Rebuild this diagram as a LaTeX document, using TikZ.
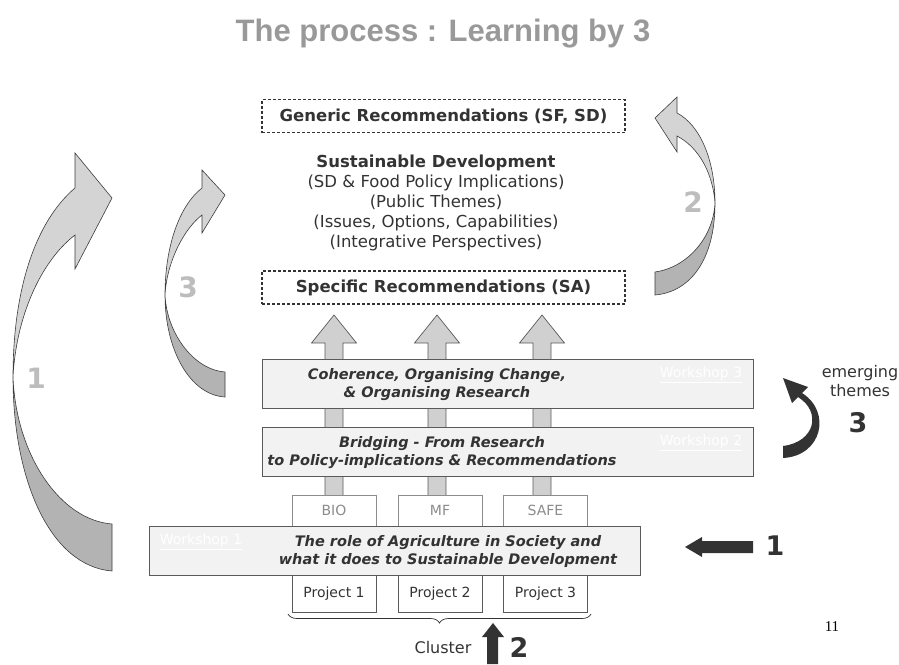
\documentclass[tikz,border=0pt]{standalone}
\usepackage{fontspec}
\setmainfont{DejaVu Sans}
\newfontfamily\titlefont{Liberation Sans}
\newfontfamily\seriffont{Liberation Serif}
\usetikzlibrary{decorations.pathreplacing}
\definecolor{txt}{HTML}{333333}
\definecolor{ttl}{HTML}{999999}
\definecolor{wsfill}{HTML}{F2F2F2}
\definecolor{wsdraw}{HTML}{5A5A5A}
\definecolor{arrlight}{HTML}{D4D4D4}
\definecolor{arrdark}{HTML}{B3B3B3}
\definecolor{arrline}{HTML}{3C3C3C}
\definecolor{blockfill}{HTML}{D0D0D0}
\definecolor{pale}{HTML}{8C8C8C}
\definecolor{numgray}{HTML}{BDBDBD}
\begin{document}
\begin{tikzpicture}[x=1pt,y=-1pt]
\tikzset{
  ws/.style={draw=wsdraw, fill=wsfill, line width=0.9pt, minimum width=491pt, minimum height=49pt, inner sep=0pt},
  rec/.style={draw=txt, dashed, dash pattern=on 3pt off 2pt, line width=1.1pt, minimum width=363pt, minimum height=33pt, inner sep=0pt, font=\fontsize{16.5}{20}\selectfont\bfseries, text=txt},
  wstext/.style={font=\fontsize{14.5}{18}\selectfont\bfseries\itshape, text=txt, align=center},
  wslabel/.style={font=\fontsize{14}{17}\selectfont, text=white},
  topbox/.style={draw=pale, fill=white, line width=0.8pt, minimum width=84pt, minimum height=31pt, inner sep=0pt, font=\fontsize{14}{17}\selectfont, text=pale},
  projbox/.style={draw=wsdraw, fill=white, line width=0.8pt, minimum width=84pt, minimum height=37pt, inner sep=0pt, font=\fontsize{14}{17}\selectfont, text=txt},
  bignum/.style={font=\fontsize{28}{28}\selectfont\bfseries, text=numgray},
  blacknum/.style={font=\fontsize{27}{27}\selectfont\bfseries, text=txt},
  curvearr/.style={draw=arrline, line width=0.6pt},
}
\useasboundingbox (0,0) rectangle (899,664);

% title
\node[font=\titlefont\fontsize{31}{34}\selectfont\bfseries, text=ttl] (title) at (443,34) {The process : Learning by 3};

% top boxes and text
\node[rec] (generic) at (443.5,116) {Generic Recommendations (SF, SD)};
\node[font=\fontsize{16.5}{20}\selectfont, text=txt, align=center] (sd) at (436,203)
  {\textbf{Sustainable Development}\\(SD \& Food Policy Implications)\\(Public Themes)\\(Issues, Options, Capabilities)\\(Integrative Perspectives)};
\node[rec] (specific) at (443.5,287.5) {Specific Recommendations (SA)};

% upward block arrows
\foreach \xx in {334,437,542}{
  \filldraw[fill=blockfill, draw=wsdraw, line width=0.7pt]
    (\xx-9,497) -- (\xx-9,343) -- (\xx-22.5,343) -- (\xx,315) -- (\xx+22.5,343) -- (\xx+9,343) -- (\xx+9,497) -- cycle;
}

% BIO / MF / SAFE
\node[topbox] (bio) at (334,510.5) {BIO};
\node[topbox] (mf) at (440,510.5) {MF};
\node[topbox] (safe) at (545.5,510.5) {SAFE};

% workshops
\node[ws] (w3) at (507.5,383.5) {};
\node[wstext] (w3t) at (437,385) {Coherence, Organising Change,\\\& Organising Research};
\node[wslabel] (w3l) at (701,375) {\underline{Workshop 3}};

\node[ws] (w2) at (507.5,451.5) {};
\node[wstext] (w2t) at (442,453) {Bridging - From Research\\to Policy-implications \& Recommendations};
\node[wslabel] (w2l) at (701,443) {\underline{Workshop 2}};

\node[ws] (w1) at (394.5,550.5) {};
\node[wstext] (w1t) at (448,551) {The role of Agriculture in Society and\\what it does to Sustainable Development};
\node[wslabel] (w1l) at (201,542) {\underline{Workshop 1}};

% projects
\node[projbox] (p1) at (334,593.5) {Project 1};
\node[projbox] (p2) at (440,593.5) {Project 2};
\node[projbox] (p3) at (545.5,593.5) {Project 3};

% brace and cluster
\coordinate (bl) at (288,614);
\coordinate (br) at (591,614);
\draw[txt, line width=0.7pt, decorate, decoration={brace, amplitude=9pt, mirror}] (bl) -- (br);
\node[font=\fontsize{16}{19}\selectfont, text=txt] (cluster) at (443,648) {Cluster};
\fill[txt] (487,664) -- (487,637) -- (482,637) -- (493,623) -- (504,637) -- (498,637) -- (498,664) -- cycle;
\node[blacknum] (n2b) at (519,647) {2};

% black arrow 1
\fill[txt] (685,547) -- (702,537) -- (702,541) -- (753,541) -- (753,553) -- (702,553) -- (702,557) -- cycle;
\node[blacknum] (n1b) at (775,546) {1};

% emerging themes
\node[font=\fontsize{16}{19}\selectfont, text=txt, align=center] (emerg) at (860,381) {emerging\\themes};
\node[blacknum] (n3b) at (858,423) {3};
\fill[txt] (783,446) .. controls (815,442) and (822,412) .. (798,397) -- (792,403) -- (783,378) -- (808,387) -- (802,393) .. controls (832,412) and (822,456) .. (783,458) -- cycle;

% page number
\node[font=\seriffont\fontsize{15}{18}\selectfont, text=black] (pg) at (832,627) {11};

% big curved arrow 1 (left)
\coordinate (c1) at (13,377);
\filldraw[curvearr, fill=arrdark] (c1) .. controls (13,480) and (50,566) .. (112,571) -- (112,524) .. controls (60,520) and (16,455) .. (c1) -- cycle;
\filldraw[curvearr, fill=arrlight] (c1) .. controls (13,290) and (35,222) .. (75,188) -- (75,153) -- (112,198) -- (75,269) -- (75,235) .. controls (40,262) and (16,318) .. (c1) -- cycle;
\node[bignum] (n1g) at (36,378) {1};

% big curved arrow 3
\coordinate (c3) at (165,295);
\filldraw[curvearr, fill=arrdark] (c3) .. controls (165,350) and (190,395) .. (225,397) -- (225,372) .. controls (195,370) and (167,335) .. (c3) -- cycle;
\filldraw[curvearr, fill=arrlight] (c3) .. controls (165,245) and (180,205) .. (202,188) -- (202,170) -- (225,195) -- (202,233) -- (202,215) .. controls (185,228) and (167,260) .. (c3) -- cycle;
\node[bignum] (n3g) at (188,287) {3};

% big curved arrow 2 (right)
\coordinate (c2) at (715,203);
\filldraw[curvearr, fill=arrdark] (c2) .. controls (715,260) and (690,292) .. (655,295) -- (655,272) .. controls (685,268) and (713,240) .. (c2) -- cycle;
\filldraw[curvearr, fill=arrlight] (c2) .. controls (715,160) and (700,125) .. (677,113) -- (677,97) -- (655,118) -- (677,152) -- (677,136) .. controls (700,148) and (713,175) .. (c2) -- cycle;
\node[bignum] (n2g) at (693,202) {2};
\end{tikzpicture}
\end{document}
